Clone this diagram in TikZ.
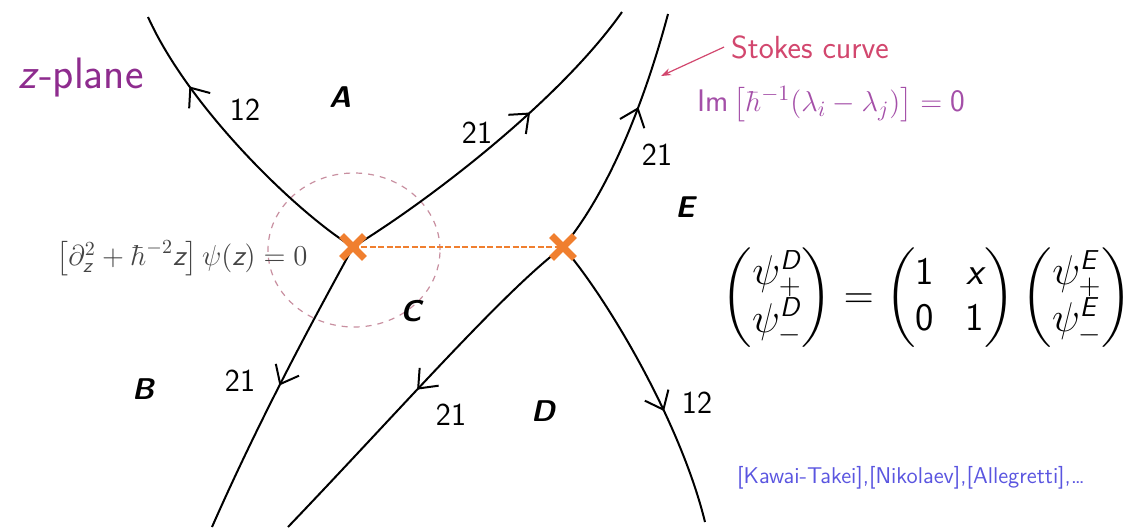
\documentclass[tikz,border=0pt]{standalone}
\usepackage{amsmath}
\usepackage{fontspec}
\usepackage{xcolor}
\usepackage{tikz}
\usetikzlibrary{positioning, arrows.meta, decorations.markings, shapes.misc}
\definecolor{zpurple}{HTML}{8E2C8E}
\definecolor{impurple}{HTML}{A44FA8}
\definecolor{stokesred}{HTML}{D2476E}
\definecolor{branchorange}{HTML}{F07F2F}
\definecolor{circlepink}{HTML}{C88FA0}
\definecolor{eqgray}{HTML}{444444}
\definecolor{citeblue}{HTML}{5A55E0}
\newcommand{\sfit}[1]{\text{\sffamily\itshape #1}}
\newcommand{\sfup}[1]{\text{\sffamily #1}}

\begin{document}
\begin{tikzpicture}[x=0.5pt, y=-0.5pt,
    flow/.style={line width=1pt, decoration={markings,
        mark=at position #1 with {\arrow{Straight Barb[length=8pt,width=13pt]}}},
        postaction={decorate}},
    branch/.style={cross out, draw=branchorange, line width=3.4pt,
        minimum size=8pt, inner sep=0pt},
    wlabel/.style={font=\fontsize{16}{18}\selectfont\sffamily},
    region/.style={font=\fontsize{15}{18}\selectfont\sffamily\bfseries\itshape}]
    \useasboundingbox (0,0) rectangle (1130,527);

    \coordinate (bp1) at (353,247);
    \coordinate (bp2) at (563,247);
    \coordinate (endAl) at (148,17);
    \coordinate (endAr) at (622,12);
    \coordinate (endB) at (212,527);
    \coordinate (endE) at (668,14);
    \coordinate (endDl) at (288,527);
    \coordinate (endDr) at (705,522);

    \draw[circlepink, line width=0.6pt, dash pattern=on 3pt off 3pt]
        (bp1) ++(1,3) ellipse [x radius=43pt, y radius=38.5pt];

    \draw[flow=0.74] (bp1) .. controls (300,215) and (190,110) .. (endAl);
    \draw[flow=0.62] (bp1) .. controls (430,200) and (560,100) .. (endAr);
    \draw[flow=0.5] (bp1) .. controls (330,290) and (268,400) .. (endB);
    \draw[flow=0.62] (bp2) .. controls (610,190) and (645,100) .. (endE);
    \draw[flow=0.52] (bp2) .. controls (505,290) and (400,410) .. (endDl);
    \draw[flow=0.62] (bp2) .. controls (605,295) and (680,420) .. (endDr);

    \draw[branchorange, line width=1.3pt, dash pattern=on 3pt off 1.2pt] (bp1) -- (bp2);
    \node[branch] (crossL) at (bp1) {};
    \node[branch] (crossR) at (bp2) {};

    \node[wlabel] (lAl) at (245,110) {12};
    \node[wlabel] (lAr) at (477,133) {21};
    \node[wlabel] (lE) at (657,155) {21};
    \node[wlabel] (lB) at (240,381) {21};
    \node[wlabel] (lDl) at (451,415) {21};
    \node[wlabel] (lDr) at (697,403) {12};

    \node[region] (regA) at (340,97) {A};
    \node[region] (regB) at (143,389) {B};
    \node[region] (regC) at (411,311) {C};
    \node[region] (regD) at (543,411) {D};
    \node[region] (regE) at (685,207) {E};

    \node[text=zpurple, font=\fontsize{22}{26}\selectfont\sffamily] (zplane) at (81,78) {\textit{z}-plane};

    \node[text=stokesred, font=\fontsize{16}{18}\selectfont\sffamily] (stokes) at (810,47) {Stokes curve};
    \coordinate (hit) at (661,76);
    \draw[stokesred, line width=0.6pt, -{Stealth[length=5pt,width=3.5pt]}] (stokes.west) -- (hit);

    \node[text=impurple, font=\fontsize{15.6}{18}\selectfont] (imcond) at (831,104)
        {$\sfup{Im}\left[\hbar^{-1}(\lambda_i-\lambda_j)\right]=\sfup{0}$};

    \node[text=eqgray, font=\fontsize{14.4}{17}\selectfont] (airy) at (182,258)
        {$\left[\partial_{\sfit{z}}^2+\hbar^{-2}\sfit{z}\right]\psi(\sfit{z})=0$};

    \node[font=\fontsize{19.5}{23}\selectfont] (jump) at (927,298)
        {$\begin{pmatrix}\psi_+^{\sfit{D}}\\ \psi_-^{\sfit{D}}\end{pmatrix}
        =\begin{pmatrix}\sfup{1}&\;\sfit{x}\\ \sfup{0}&\;\sfup{1}\end{pmatrix}
        \begin{pmatrix}\psi_+^{\sfit{E}}\\ \psi_-^{\sfit{E}}\end{pmatrix}$};

    \node[text=citeblue, font=\fontsize{11.4}{13}\selectfont\sffamily] (refs) at (911,478)
        {[Kawai-Takei],[Nikolaev],[Allegretti],\dots};
\end{tikzpicture}
\end{document}
